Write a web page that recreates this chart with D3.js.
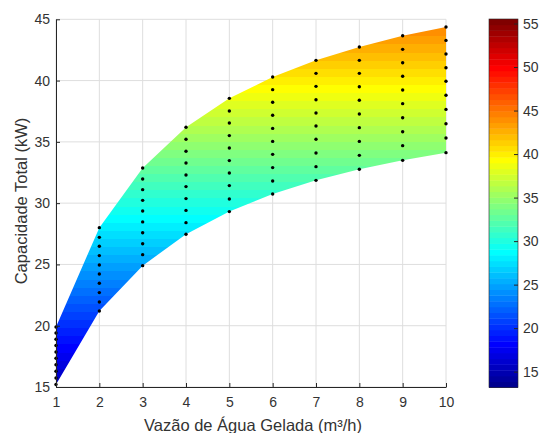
<!DOCTYPE html>
<html>
<head>
<meta charset="utf-8">
<script src="https://cdn.jsdelivr.net/npm/d3@7"></script>
<style>
  body { margin: 0; background: #fff; }
  svg { display: block; font-family: "Liberation Sans", Arial, sans-serif; }
  .axis path, .axis line { stroke: #262626; }
  .axis text { fill: #333; font-size: 14px; }
</style>
</head>
<body>
<svg id="chart" width="544" height="433"></svg>
<script>
// Vazão (m³/h) e capacidade (kW), 10 pontos por vazão
const vazao = [1, 2, 3, 4, 5, 6, 7, 8, 9, 10];
const capacidade = [
  [19.90, 19.40, 18.89, 18.38, 17.86, 17.34, 16.81, 16.28, 15.74, 15.20],
  [28.00, 27.21, 26.48, 25.72, 24.95, 24.22, 23.46, 22.70, 21.94, 21.20],
  [32.87, 31.97, 31.10, 30.23, 29.36, 28.47, 27.59, 26.69, 25.80, 24.90],
  [36.19, 35.21, 34.23, 33.28, 32.30, 31.35, 30.37, 29.41, 28.41, 27.46],
  [38.55, 37.52, 36.54, 35.51, 34.50, 33.47, 32.46, 31.43, 30.34, 29.31],
  [40.29, 39.26, 38.23, 37.17, 36.10, 35.04, 33.98, 32.90, 31.81, 30.75],
  [41.65, 40.59, 39.53, 38.44, 37.36, 36.29, 35.21, 34.09, 32.98, 31.86],
  [42.74, 41.65, 40.59, 39.50, 38.39, 37.27, 36.16, 35.04, 33.90, 32.76],
  [43.66, 42.55, 41.46, 40.35, 39.23, 38.12, 36.97, 35.83, 34.69, 33.49],
  [44.37, 43.28, 42.17, 41.05, 39.94, 38.80, 37.65, 36.48, 35.32, 34.12]
];
const xTicks = [1, 2, 3, 4, 5, 6, 7, 8, 9, 10];
const yTicks = [15, 20, 25, 30, 35, 40, 45];
const corLimites = [13.18, 55.52];
const corTicks = [15, 20, 25, 30, 35, 40, 45, 50, 55];

// jet(64) como no MATLAB
function jet(m) {
  const n = Math.ceil(m / 4);
  const u = [];
  for (let i = 1; i <= n; i++) u.push(i / n);
  for (let i = 1; i < n; i++) u.push(1);
  for (let i = n; i >= 1; i--) u.push(i / n);
  const g0 = Math.ceil(n / 2) - (m % 4 === 1 ? 1 : 0);
  const J = d3.range(m).map(() => [0, 0, 0]);
  u.forEach((v, i) => {
    const g = g0 + i + 1, r = g + n, b = g - n;
    if (r >= 1 && r <= m) J[r - 1][0] = v;
    if (g >= 1 && g <= m) J[g - 1][1] = v;
    if (b >= 1 && b <= m) J[b - 1][2] = v;
  });
  return J.map(c => d3.rgb(c[0] * 255, c[1] * 255, c[2] * 255).formatHex());
}
const cmap = jet(64);

const svg = d3.select('#chart');
const margin = { top: 19.3, left: 56, right: 446, bottom: 387 };

const x = d3.scaleLinear().domain([1, 10]).range([margin.left, margin.right]);
const y = d3.scaleLinear().domain([15, 45]).range([margin.bottom, margin.top]);

// grid
svg.append('g').selectAll('line.vx')
  .data(xTicks).enter().append('line')
  .attr('x1', d => x(d)).attr('x2', d => x(d))
  .attr('y1', margin.top).attr('y2', margin.bottom)
  .attr('stroke', '#dedede').attr('stroke-width', 1);
svg.append('g').selectAll('line.hy')
  .data(yTicks).enter().append('line')
  .attr('x1', margin.left).attr('x2', margin.right)
  .attr('y1', d => y(d)).attr('y2', d => y(d))
  .attr('stroke', '#dedede').attr('stroke-width', 1);

// gradiente em faixas (64 cores) na vertical
const grad = svg.append('defs').append('linearGradient')
  .attr('id', 'jetGrad')
  .attr('gradientUnits', 'userSpaceOnUse')
  .attr('x1', 0).attr('x2', 0)
  .attr('y1', y(corLimites[0])).attr('y2', y(corLimites[1]));
cmap.forEach((c, i) => {
  grad.append('stop').attr('offset', i / 64).attr('stop-color', c);
  grad.append('stop').attr('offset', (i + 1) / 64).attr('stop-color', c);
});

const faixa = vazao.map((v, i) => ({ v, lo: d3.min(capacidade[i]), hi: d3.max(capacidade[i]) }));
const area = d3.area()
  .x(d => x(d.v))
  .y0(d => y(d.lo))
  .y1(d => y(d.hi));
svg.append('path')
  .datum(faixa)
  .attr('d', area)
  .attr('fill', 'url(#jetGrad)');

// pontos
const pontos = [];
vazao.forEach((v, i) => capacidade[i].forEach(c => pontos.push({ v, c })));
svg.append('g').selectAll('circle')
  .data(pontos).enter().append('circle')
  .attr('cx', d => x(d.v))
  .attr('cy', d => y(d.c))
  .attr('r', 1.7)
  .attr('fill', '#000');

// eixos
svg.append('g')
  .attr('class', 'axis')
  .attr('transform', `translate(0,${margin.bottom})`)
  .call(d3.axisBottom(x).tickValues(xTicks).tickFormat(d3.format('d')).tickSizeInner(-4).tickSizeOuter(0).tickPadding(10));
svg.append('g')
  .attr('class', 'axis')
  .attr('transform', `translate(${margin.left},0)`)
  .call(d3.axisLeft(y).tickValues(yTicks).tickFormat(d3.format('d')).tickSizeInner(-4).tickSizeOuter(0).tickPadding(6));

svg.append('text')
  .attr('x', 253)
  .attr('y', 431)
  .attr('text-anchor', 'middle')
  .attr('fill', '#333')
  .style('font-size', '16.5px')
  .text('Vazão de Água Gelada (m³/h)');

svg.append('text')
  .attr('transform', `translate(27,201) rotate(-90)`)
  .attr('text-anchor', 'middle')
  .attr('fill', '#333')
  .style('font-size', '16.5px')
  .text('Capacidade Total (kW)');

// barra de cores
const cb = { x: 489, w: 29, top: 19, bottom: 387.5 };
const yc = d3.scaleLinear().domain(corLimites).range([cb.bottom, cb.top]);
svg.append('g').selectAll('rect')
  .data(cmap).enter().append('rect')
  .attr('x', cb.x)
  .attr('width', cb.w)
  .attr('y', (d, i) => yc(corLimites[0] + (i + 1) * (corLimites[1] - corLimites[0]) / 64))
  .attr('height', (cb.bottom - cb.top) / 64 + 0.4)
  .attr('fill', d => d);
svg.append('rect')
  .attr('x', cb.x).attr('y', cb.top)
  .attr('width', cb.w).attr('height', cb.bottom - cb.top)
  .attr('fill', 'none').attr('stroke', '#262626').attr('stroke-width', 0.6);
svg.append('g')
  .attr('class', 'axis')
  .attr('transform', `translate(${cb.x + cb.w},0)`)
  .call(d3.axisRight(yc).tickValues(corTicks).tickSizeInner(-4).tickSizeOuter(0).tickPadding(5))
  .call(g => g.select('.domain').remove());
</script>
</body>
</html>
